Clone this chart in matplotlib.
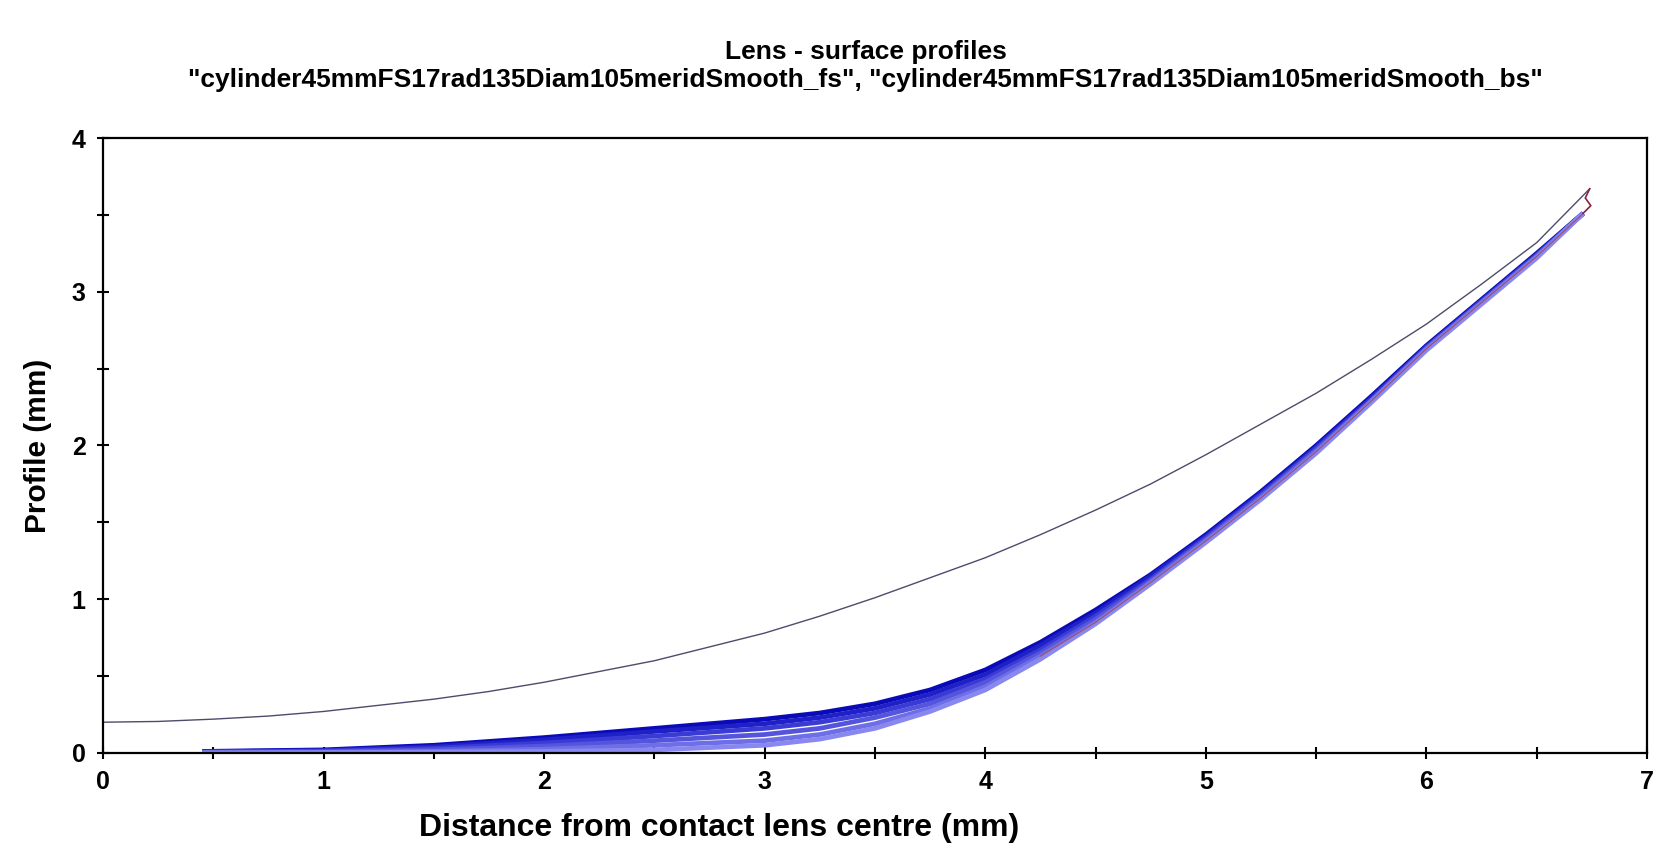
import matplotlib
matplotlib.use("Agg")
import matplotlib.pyplot as plt
from matplotlib.ticker import MultipleLocator

# front surface ("fs") profile, single curve
fs_x = [0, 0.25, 0.5, 0.75, 1, 1.25, 1.5, 1.75, 2, 2.25, 2.5, 2.75, 3, 3.25, 3.5, 3.75, 4,
        4.25, 4.5, 4.75, 5, 5.25, 5.5, 5.75, 6, 6.25, 6.5, 6.74]
fs_y = [0.20, 0.205, 0.22, 0.24, 0.27, 0.31, 0.35, 0.40, 0.46, 0.53, 0.60, 0.69, 0.78, 0.89,
        1.01, 1.14, 1.27, 1.42, 1.58, 1.75, 1.94, 2.14, 2.34, 2.56, 2.79, 3.05, 3.32, 3.67]

# back surface ("bs") meridians, darkest (steepest) first
bs_x = [0.45, 1, 1.5, 2, 2.5, 3, 3.25, 3.5, 3.75, 4, 4.25, 4.5, 4.75, 5, 5.25, 5.5, 5.75, 6, 6.25, 6.5, 6.71]
bs_m0 = [0.01, 0.02, 0.05, 0.10, 0.16, 0.22, 0.26, 0.32, 0.41, 0.54, 0.72, 0.93, 1.16, 1.42, 1.70, 2.00, 2.32, 2.65, 2.95, 3.25, 3.51]
bs_m1 = [0.008, 0.016, 0.04, 0.085, 0.14, 0.19, 0.23, 0.29, 0.38, 0.51, 0.70, 0.91, 1.15, 1.41, 1.69, 1.99, 2.31, 2.64, 2.94, 3.24, 3.51]
bs_m2 = [0.006, 0.012, 0.03, 0.065, 0.11, 0.16, 0.20, 0.26, 0.35, 0.48, 0.67, 0.89, 1.13, 1.40, 1.68, 1.98, 2.30, 2.64, 2.94, 3.24, 3.51]
bs_m3 = [0.004, 0.008, 0.02, 0.045, 0.08, 0.12, 0.16, 0.23, 0.32, 0.46, 0.65, 0.87, 1.12, 1.39, 1.67, 1.97, 2.29, 2.63, 2.93, 3.23, 3.51]
bs_m4 = [0.002, 0.004, 0.01, 0.025, 0.05, 0.08, 0.12, 0.19, 0.29, 0.43, 0.63, 0.85, 1.11, 1.38, 1.66, 1.96, 2.29, 2.63, 2.93, 3.23, 3.51]
bs_m5 = [0.0, 0.002, 0.005, 0.01, 0.02, 0.05, 0.09, 0.16, 0.27, 0.41, 0.61, 0.84, 1.10, 1.37, 1.65, 1.95, 2.28, 2.62, 2.92, 3.22, 3.51]
bs_meridians = [bs_m0, bs_m1, bs_m2, bs_m3, bs_m4, bs_m5]
bs_colors = ["#0a0ab8", "#2020c8", "#3a3ad4", "#5454dc", "#6e6ee6", "#8888f0"]

# flat part of the back surface near the centre
centre_x = [0, 0.45]
centre_y = [0, 0]

# lens edge joining back and front surface
edge_x = [6.71, 6.745, 6.72, 6.74]
edge_y = [3.51, 3.56, 3.61, 3.67]

title = ('Lens - surface profiles\n'
         '"cylinder45mmFS17rad135Diam105meridSmooth_fs", "cylinder45mmFS17rad135Diam105meridSmooth_bs"')

plt.rcParams["font.family"] = ["Liberation Sans", "DejaVu Sans"]
plt.rcParams["font.weight"] = "bold"

fig = plt.figure(figsize=(16.58, 8.51), dpi=100)
ax = fig.add_axes([0.0621, 0.1152, 0.9313, 0.7226])

ax.plot(centre_x, centre_y, color="#707080", lw=1.2)
for m, c in zip(bs_meridians, bs_colors):
    ax.plot(bs_x, m, color=c, lw=3.4, solid_capstyle="butt")
# reddish trace on top of the converged back surface
ax.plot(bs_x[10:], bs_m4[10:], color="#a05070", lw=0.9)
ax.plot(fs_x, fs_y, color="#4c4c6c", lw=1.0)
ax.plot(edge_x, edge_y, color="#8a2040", lw=1.2)

ax.set_xlim(0, 7)
ax.set_ylim(0, 4)
ax.xaxis.set_major_locator(MultipleLocator(1))
ax.xaxis.set_minor_locator(MultipleLocator(0.5))
ax.yaxis.set_major_locator(MultipleLocator(1))
ax.yaxis.set_minor_locator(MultipleLocator(0.5))
ax.tick_params(which="both", direction="inout", length=9, width=1.5, color="black")
ax.tick_params(labelsize=18, pad=8)
for s in ax.spines.values():
    s.set_linewidth(1.6)

ax.set_ylabel("Profile (mm)", fontsize=21.5, fontweight="bold", labelpad=14)
fig.text(0.434, 0.027, "Distance from contact lens centre (mm)", ha="center", va="center",
         fontsize=23, fontweight="bold")
fig.text(0.522, 0.922, title, ha="center", va="center", fontsize=19, fontweight="bold",
         linespacing=1.2)

fig.savefig("out.png", dpi=100, facecolor="white")
